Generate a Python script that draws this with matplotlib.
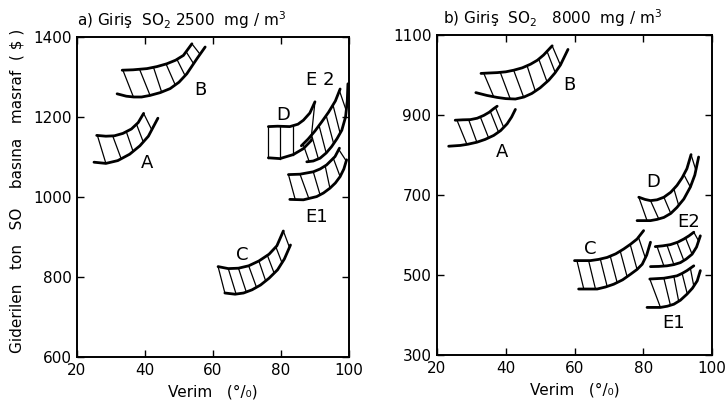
import numpy as np
import matplotlib
matplotlib.use("Agg")
import matplotlib.pyplot as plt

# ---------------- data ----------------
x_ticks = [20, 40, 60, 80, 100]
a_y_ticks = [600, 800, 1000, 1200, 1400]
b_y_ticks = [300, 500, 700, 900, 1100]

# Panel a) Giriş SO2 2500 mg/m3   -- (x list, y list) for upper / lower edges,
# hatch = (x on upper edge, x on lower edge)
a_A_upper = ([25.8, 28.5, 31.0, 33.5, 36.0, 38.0, 39.6],
             [1154, 1152, 1153, 1159, 1170, 1186, 1209])
a_A_lower = ([25.0, 28.5, 32.0, 35.5, 38.5, 41.0, 43.8],
             [1087, 1084, 1091, 1107, 1128, 1152, 1197])
a_A_hatch = ([26.0, 30.5, 34.5, 37.5, 39.6], [28.5, 33.0, 36.5, 39.5, 42.0])

a_B_upper = ([33.3, 36.5, 40.6, 43.5, 46.4, 49.0, 51.3, 53.8],
             [1317, 1318, 1321, 1326, 1333, 1342, 1354, 1383])
a_B_lower = ([31.8, 34.5, 36.7, 39.0, 41.5, 44.5, 47.4, 50.0, 52.3, 55.3, 57.7],
             [1258, 1252, 1250, 1250, 1254, 1261, 1271, 1287, 1308, 1346, 1375])
a_B_hatch = ([33.5, 38.4, 42.5, 46.2, 49.4, 52.1, 53.8],
             [36.6, 41.5, 44.9, 48.9, 51.8, 54.3, 56.2])

a_C_upper = ([61.5, 64.5, 67.5, 70.5, 73.5, 76.5, 78.8, 80.7],
             [826, 821, 822, 828, 840, 857, 878, 915])
a_C_lower = ([63.5, 66.5, 69.0, 71.5, 74.0, 76.5, 79.0, 81.0, 82.8],
             [760, 757, 760, 768, 780, 797, 818, 845, 880])
a_C_hatch = ([61.5, 64.5, 67.5, 70.5, 73.5, 76.0, 78.5, 80.7],
             [63.5, 66.8, 69.8, 72.8, 75.5, 78.0, 80.3, 82.5])

a_D_upper = ([76.3, 79.0, 82.6, 85.0, 86.6, 88.5, 90.0],
             [1176, 1177, 1176, 1182, 1192, 1210, 1238])
a_D_lower = ([76.3, 79.7, 83.6, 86.6, 89.0],
             [1098, 1096, 1106, 1121, 1142])
a_D_hatch = ([76.3, 79.7, 83.6, 90.0], [76.3, 79.7, 83.6, 88.8])

a_E2_upper = ([86.0, 88.0, 90.0, 92.0, 94.0, 96.0, 97.4],
              [1128, 1145, 1165, 1188, 1212, 1240, 1270])
a_E2_lower = ([87.6, 89.5, 91.5, 93.3, 94.9, 96.5, 97.9, 99.0, 99.5, 99.7],
              [1088, 1090, 1097, 1110, 1126, 1146, 1167, 1200, 1240, 1283])
a_E2_hatch = ([86.5, 89.0, 91.2, 93.3, 95.3, 97.2], [88.3, 91.0, 93.3, 95.5, 97.4, 99.2])

a_E1_upper = ([82.2, 85.6, 89.5, 91.5, 93.4, 95.9, 97.2],
              [1056, 1057, 1063, 1070, 1080, 1101, 1122])
a_E1_lower = ([82.6, 86.6, 90.5, 92.5, 94.4, 96.0, 97.4, 98.5, 99.3],
              [994, 993, 1001, 1010, 1022, 1035, 1051, 1070, 1093])
a_E1_hatch = ([82.2, 85.6, 89.5, 93.0, 95.4, 97.0], [84.2, 88.2, 91.5, 94.4, 97.4, 99.2])

# Panel b) Giriş SO2 8000 mg/m3
b_A_upper = ([25.3, 27.5, 29.7, 31.7, 33.6, 35.2, 36.5, 37.5],
             [887, 888, 888.5, 892, 899, 907, 916, 922])
b_A_lower = ([23.4, 26.8, 29.0, 31.6, 34.0, 36.5, 38.5, 40.4, 41.7, 42.8],
             [822, 824, 827, 832, 839, 849, 861, 878, 895, 914])
b_A_hatch = ([25.8, 29.2, 32.6, 35.5, 37.0], [28.7, 31.6, 35.0, 37.9, 39.4])

b_B_upper = ([32.8, 35.0, 37.5, 40.0, 42.3, 44.8, 47.2, 49.2, 51.0, 53.5],
             [1004, 1005, 1006, 1008, 1012, 1018, 1027, 1037, 1050, 1073])
b_B_lower = ([31.3, 34.5, 37.5, 40.0, 42.8, 45.3, 47.6, 50.0, 52.5, 54.3, 55.9, 58.1],
             [956, 949, 944, 941, 940, 945, 954, 968, 987, 1005, 1025, 1064])
b_B_hatch = ([33.6, 38.4, 42.3, 46.2, 49.6, 52.0, 53.5],
             [36.5, 41.3, 45.2, 48.6, 52.0, 54.4, 55.9])

b_C_upper = ([60.0, 62.5, 64.6, 67.0, 69.5, 72.0, 74.3, 76.3, 78.2, 80.1],
             [536, 536, 536, 539, 544, 553, 565, 577, 590, 611])
b_C_lower = ([61.2, 64.0, 66.6, 69.0, 71.4, 74.0, 76.3, 78.2, 79.7, 81.0, 82.1],
             [465, 465, 465, 470, 477, 488, 502, 514, 527, 550, 582])
b_C_hatch = ([60.7, 64.1, 67.5, 70.4, 73.3, 76.2, 78.6],
             [62.7, 66.1, 69.5, 72.4, 75.3, 78.2, 80.6])

b_D_upper = ([78.7, 80.5, 82.1, 84.0, 86.0, 88.0, 89.8, 91.3, 92.7, 93.9],
             [694.5, 689, 686, 688, 694.5, 707, 724, 743, 766, 801])
b_D_lower = ([78.2, 80.0, 82.1, 84.0, 86.0, 88.0, 89.8, 91.8, 93.7, 95.0, 96.1],
             [636, 636, 636, 639, 644, 654, 669, 690, 720, 750, 795])
b_D_hatch = ([78.7, 82.1, 86.0, 88.9, 91.8, 93.9], [81.1, 84.5, 88.0, 90.3, 93.7, 95.3])

b_E2_upper = ([83.5, 85.7, 87.9, 90.0, 91.8, 93.3, 94.7],
              [571, 573, 576, 582, 590, 598, 607])
b_E2_lower = ([82.1, 84.5, 86.9, 88.9, 90.8, 92.5, 94.2, 95.5, 96.6],
              [521, 521.5, 523, 526, 531, 540, 552, 570, 598])
b_E2_hatch = ([84.0, 86.9, 89.8, 92.3, 94.7], [86.0, 88.9, 91.8, 94.2, 96.1])

b_E1_upper = ([81.9, 84.0, 86.0, 88.0, 89.8, 91.3, 92.7, 94.7],
              [490, 491, 492, 495, 498, 504, 511, 523])
b_E1_lower = ([81.1, 83.0, 85.0, 87.0, 88.9, 90.8, 92.7, 94.3, 95.7, 96.6],
              [419, 419, 419, 422, 427, 437, 452, 467, 485.5, 511])
b_E1_hatch = ([81.9, 86.0, 88.9, 91.3, 93.7], [85.0, 87.9, 90.3, 92.8, 94.7])

# ---------------- drawing ----------------
plt.rcParams['font.family'] = ['DejaVu Sans']

fig = plt.figure(figsize=(7.27, 4.13), dpi=100)
ax_a = fig.add_axes([0.1059, 0.1356, 0.3741, 0.7748])
ax_b = fig.add_axes([0.6011, 0.1404, 0.3783, 0.7748])


def draw_band(ax, upper, lower, hatch):
    ax.plot(upper[0], upper[1], color='black', lw=2.0, solid_capstyle='round')
    ax.plot(lower[0], lower[1], color='black', lw=2.0, solid_capstyle='round')
    for xu, xl in zip(hatch[0], hatch[1]):
        yu = np.interp(xu, upper[0], upper[1])
        yl = np.interp(xl, lower[0], lower[1])
        ax.plot([xu, xl], [yu, yl], color='black', lw=0.9)


bands_a = {
    'A': (a_A_upper, a_A_lower, a_A_hatch),
    'B': (a_B_upper, a_B_lower, a_B_hatch),
    'C': (a_C_upper, a_C_lower, a_C_hatch),
    'D': (a_D_upper, a_D_lower, a_D_hatch),
    'E 2': (a_E2_upper, a_E2_lower, a_E2_hatch),
    'E1': (a_E1_upper, a_E1_lower, a_E1_hatch),
}
bands_b = {
    'A': (b_A_upper, b_A_lower, b_A_hatch),
    'B': (b_B_upper, b_B_lower, b_B_hatch),
    'C': (b_C_upper, b_C_lower, b_C_hatch),
    'D': (b_D_upper, b_D_lower, b_D_hatch),
    'E2': (b_E2_upper, b_E2_lower, b_E2_hatch),
    'E1': (b_E1_upper, b_E1_lower, b_E1_hatch),
}
# label placement (layout)
labels_pos_a = {'A': (40.6, 1085), 'B': (56.2, 1267), 'C': (68.5, 854),
                'D': (80.7, 1204), 'E 2': (91.5, 1292), 'E1': (90.5, 950)}
labels_pos_b = {'A': (38.9, 807), 'B': (58.6, 975), 'C': (64.6, 565),
                'D': (83.0, 732), 'E2': (93.2, 632), 'E1': (88.9, 381)}

for ax, bands, lpos, yt in ((ax_a, bands_a, labels_pos_a, a_y_ticks),
                            (ax_b, bands_b, labels_pos_b, b_y_ticks)):
    for name, (up, lo, ha) in bands.items():
        draw_band(ax, up, lo, ha)
        ax.text(lpos[name][0], lpos[name][1], name, fontsize=13,
                ha='center', va='center')
    ax.set_xlim(x_ticks[0], x_ticks[-1])
    ax.set_ylim(yt[0], yt[-1])
    ax.set_xticks(x_ticks)
    ax.set_yticks(yt)
    ax.tick_params(direction='in', length=5, width=1.0, top=True, right=True,
                   labelsize=11, pad=4)
    for sp in ax.spines.values():
        sp.set_linewidth(1.4)
    ax.set_xlabel('Verim   (°/₀)', fontsize=11, labelpad=5)

ax_a.text(0.0, 1.02, 'a) Giriş  SO$_2$ 2500  mg / m$^3$', transform=ax_a.transAxes,
          ha='left', va='bottom', fontsize=11)
ax_b.text(0.02, 1.02, 'b) Giriş  SO$_2$   8000  mg / m$^3$', transform=ax_b.transAxes,
          ha='left', va='bottom', fontsize=11)

fig.text(0.024, 0.537, 'Giderilen   ton   SO    basına   masraf  ( $ )',
         rotation=90, ha='center', va='center', fontsize=11)

fig.savefig('out.png', dpi=100)
